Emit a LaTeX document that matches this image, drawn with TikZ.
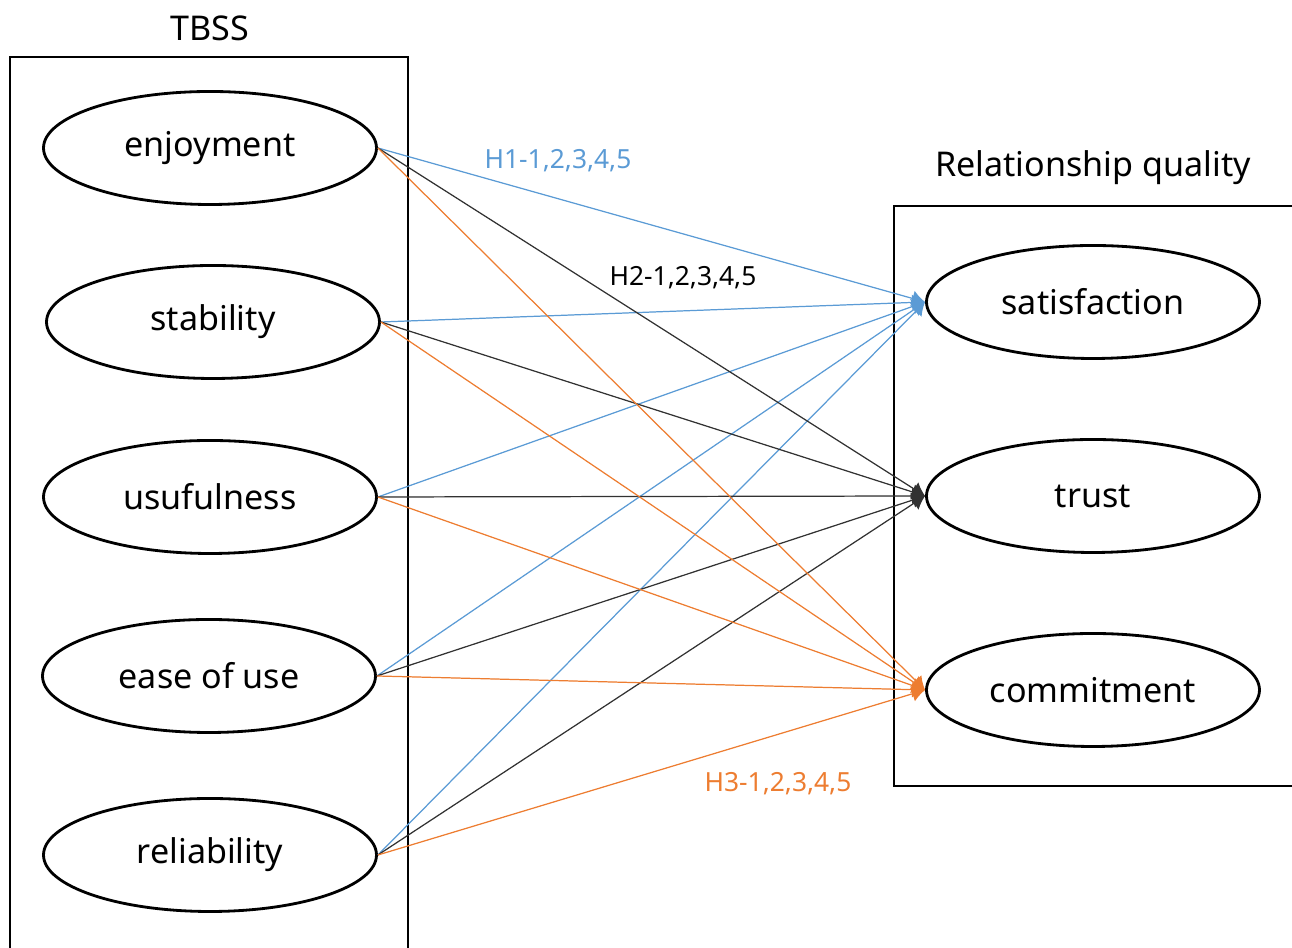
\documentclass[tikz,border=0pt]{standalone}
\usepackage{fontspec}
\setmainfont{Noto Sans}
\usepackage{xcolor}
\usetikzlibrary{arrows.meta, positioning, shapes.geometric}
\definecolor{hblue}{RGB}{91,155,213}
\definecolor{horange}{RGB}{237,125,49}
\definecolor{hdark}{RGB}{50,50,50}
\begin{document}
\begin{tikzpicture}[
    font=\fontsize{9.7}{12}\selectfont,
    >={Latex[length=0.13cm,width=0.16cm]},
    construct/.style={draw, ellipse, line width=0.8pt, inner sep=0pt,
        minimum width=3.33cm, minimum height=1.13cm},
    frame/.style={draw, line width=0.7pt},
    path/.style={->, line width=0.35pt, draw=#1, fill=#1},
    hyp/.style={font=\fontsize{7.5}{9}\selectfont, text=#1},
]
\useasboundingbox (0,0) rectangle (12.92,-9.48);
%% Groups
\draw[frame] (0.10,-9.60) -- (0.10,-0.57) -- (4.08,-0.57) -- (4.08,-9.60);
\draw[frame] (13.10,-2.06) -- (8.94,-2.06) -- (8.94,-7.86) -- (13.10,-7.86);
\node (tbss) at (2.10,-0.28) {TBSS};
\node (rq)   at (10.93,-1.68) {Relationship quality};
%% TBSS constructs
\node[construct] (enj) at (2.10,-1.48) {enjoyment};
\node[construct] (sta) at (2.13,-3.22) {stability};
\node[construct] (usf) at (2.10,-4.97) {usufulness};
\node[construct] (eou) at (2.09,-6.76) {ease of use};
\node[construct] (rel) at (2.10,-8.55) {reliability};
%% Relationship quality
\node[construct] (sat) at (10.93,-3.02) {satisfaction};
\node[construct] (tru) at (10.93,-4.96) {trust};
\node[construct] (com) at (10.93,-6.90) {commitment};
%% H1
\draw[path=hblue] (enj.east) -- (sat.west);
\draw[path=hblue] (sta.east) -- (sat.west);
\draw[path=hblue] (usf.east) -- (sat.west);
\draw[path=hblue] (eou.east) -- (sat.west);
\draw[path=hblue] (rel.east) -- (sat.west);
%% H2
\draw[path=hdark] (enj.east) -- (tru.west);
\draw[path=hdark] (sta.east) -- (tru.west);
\draw[path=hdark] (usf.east) -- (tru.west);
\draw[path=hdark] (eou.east) -- (tru.west);
\draw[path=hdark] (rel.east) -- (tru.west);
%% H3
\draw[path=horange] (enj.east) -- (com.west);
\draw[path=horange] (sta.east) -- (com.west);
\draw[path=horange] (usf.east) -- (com.west);
\draw[path=horange] (eou.east) -- (com.west);
\draw[path=horange] (rel.east) -- (com.west);
%% Labels
\node[hyp=hblue]   (h1) at (5.58,-1.61) {H1-1,2,3,4,5};
\node[hyp=black]   (h2) at (6.83,-2.78) {H2-1,2,3,4,5};
\node[hyp=horange] (h3) at (7.78,-7.84) {H3-1,2,3,4,5};
\end{tikzpicture}
\end{document}
